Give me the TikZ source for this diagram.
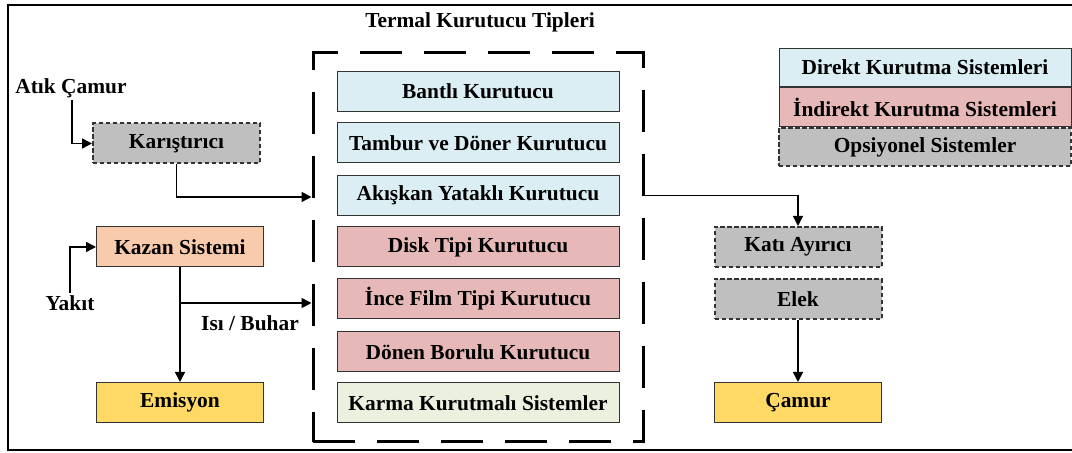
\documentclass[tikz,border=0pt]{standalone}
\usepackage{fontspec}
\setmainfont{Liberation Serif}
\usepackage{xcolor}
\usetikzlibrary{positioning, arrows.meta}

\definecolor{direkt}{HTML}{DAEEF3}
\definecolor{indirekt}{HTML}{E6B9B8}
\definecolor{opsiyon}{HTML}{BFBFBF}
\definecolor{karma}{HTML}{EBF1DE}
\definecolor{kazanc}{HTML}{F8CBAD}
\definecolor{cikti}{HTML}{FFD966}

\begin{document}
\begin{tikzpicture}[x=0.5pt, y=-0.5pt,
  every node/.style={font=\fontsize{10.7}{13}\selectfont\bfseries},
  box/.style={draw=black!80, line width=0.5pt, minimum width=141pt,
              minimum height=20pt, inner sep=0pt, align=center},
  side/.style={box, minimum width=83.5pt},
  opt/.style={side, fill=opsiyon, line width=1pt,
              dash pattern=on 2.2pt off 1.3pt},
  legend/.style={box, minimum width=146pt, minimum height=19.3pt},
  label/.style={inner sep=1pt},
  arr/.style={-{Triangle[length=5pt, width=5pt]}, line width=0.75pt},
  frame/.style={draw, line width=1.5pt, dash pattern=on 21pt off 11pt,
              dash phase=0pt, minimum width=165pt, minimum height=194.5pt}
]
  \useasboundingbox (0,0) rectangle (1072,453);
  \clip (0,0) rectangle (1072,453);
  \draw[line width=1pt] (8,5) rectangle (1080,450);

  % kurutucu tipleri
  \node[label] (title) at (480,22) {Termal Kurutucu Tipleri};
  \node[frame] (grp) at (478,247.5) {};
  \node[box, fill=direkt]   (bant)  at (478, 91.5) {Bantlı Kurutucu};
  \node[box, fill=direkt]   (tambur) at (478,143)  {Tambur ve Döner Kurutucu};
  \node[box, fill=direkt]   (akis)  at (478,195.5) {Akışkan Yataklı Kurutucu};
  \node[box, fill=indirekt] (disk)  at (478,247)   {Disk Tipi Kurutucu};
  \node[box, fill=indirekt] (film)  at (478,299)   {İnce Film Tipi Kurutucu};
  \node[box, fill=indirekt] (boru)  at (478,352)   {Dönen Borulu Kurutucu};
  \node[box, fill=karma]    (karma) at (478,403)   {Karma Kurutmalı Sistemler};

  % sol taraf
  \node[label] (atik) at (71,88) {Atık Çamur};
  \node[opt] (mix) at (176.5,143.5) {Karıştırıcı};
  \node[side, fill=kazanc] (kazan) at (180,247) {Kazan Sistemi};
  \node[label] (yakit) at (70,303) {Yakıt};
  \node[side, fill=cikti] (emis) at (180,402.5) {Emisyon};
  \node[label] (isi) at (250,323) {Isı / Buhar};
  \coordinate (brk) at (180,303);

  % sag taraf
  \node[opt] (kati) at (798,247) {Katı Ayırıcı};
  \node[opt] (elek) at (798,299) {Elek};
  \node[side, fill=cikti] (camur) at (798,402.5) {Çamur};

  % gosterim
  \node[legend, fill=direkt]   (lg1) at (925,67.5) {Direkt Kurutma Sistemleri};
  \node[legend, fill=indirekt, below=0pt of lg1] (lg2) {İndirekt Kurutma Sistemleri};
  \node[legend, fill=opsiyon, line width=1pt, dash pattern=on 2.2pt off 1.3pt,
        below=0pt of lg2] (lg3) {Opsiyonel Sistemler};

  \draw[arr] (atik.south -| 72,0) |- (mix.west);
  \draw[arr] (mix.south) |- (grp.west |- 0,197);
  \draw[arr] (yakit.north) |- (kazan.west);
  \draw[arr] (kazan.south) -- (emis.north);
  \draw[arr] (brk) -- (grp.west |- brk);
  \draw[arr] (grp.east |- akis.east) -| (kati.north);
  \draw[arr] (elek.south) -- (camur.north);
\end{tikzpicture}
\end{document}
